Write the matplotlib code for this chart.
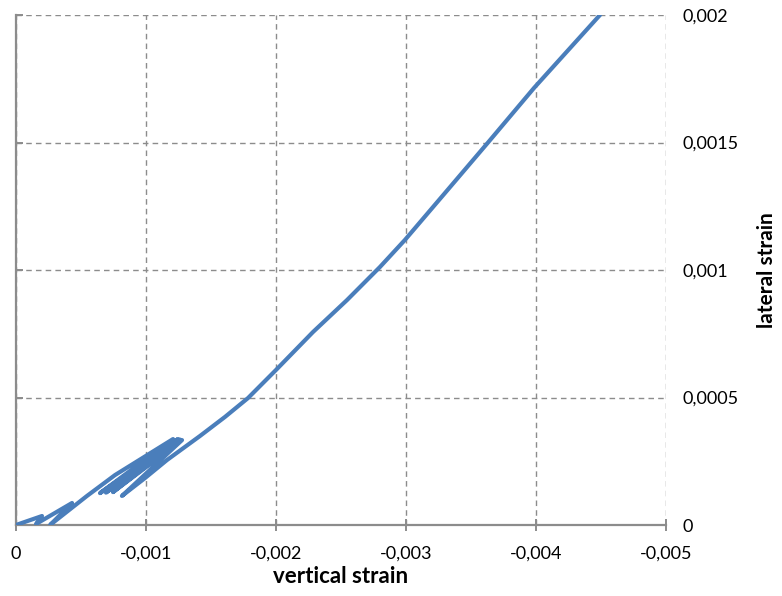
import matplotlib
matplotlib.use("Agg")
import matplotlib.pyplot as plt

# Strain path (vertical strain, lateral strain)
vertical = [0, -0.0002, -0.000154, -0.000431, -0.000262, -0.000546, -0.000762,
            -0.001208, -0.000646, -0.001246, -0.000692, -0.001262, -0.000746,
            -0.001277, -0.000815, -0.000992, -0.001162, -0.001415, -0.001608,
            -0.001785, -0.002, -0.002285, -0.002546, -0.0028, -0.002992,
            -0.0033, -0.003631, -0.003985, -0.004492]
lateral = [0, 0.0000353, 0.0000039, 0.0000863, 0.0, 0.000114, 0.000196,
           0.000337, 0.000125, 0.000337, 0.000127, 0.000335, 0.000129,
           0.000333, 0.000114, 0.000184, 0.000255, 0.000349, 0.000424,
           0.000498, 0.000608, 0.000757, 0.000882, 0.001012, 0.001118,
           0.001302, 0.0015, 0.001714, 0.002]

x_ticks = [0, -0.001, -0.002, -0.003, -0.004, -0.005]
x_labels = ["0", "-0,001", "-0,002", "-0,003", "-0,004", "-0,005"]
y_ticks = [0, 0.0005, 0.001, 0.0015, 0.002]
y_labels = ["0", "0,0005", "0,001", "0,0015", "0,002"]

plt.rcParams["font.family"] = ["Lato", "DejaVu Sans"]

fig = plt.figure(figsize=(7.82, 5.96), dpi=100)
ax = fig.add_axes([16 / 782, 71 / 596, 650 / 782, 510 / 596])

ax.plot(vertical, lateral, color="#4A7EBB", linewidth=3.0,
        solid_joinstyle="round", solid_capstyle="round", zorder=3)

ax.set_xlim(0, -0.005)
ax.set_ylim(0, 0.002)
ax.set_xticks(x_ticks)
ax.set_xticklabels(x_labels)
ax.set_yticks(y_ticks)
ax.set_yticklabels(y_labels)

grid_col = "#8C8C8C"
ax.grid(True, color=grid_col, linestyle=(0, (4, 3)), linewidth=1.0)
ax.set_axisbelow(True)

for side in ["top", "right"]:
    ax.spines[side].set_visible(False)
for side in ["left", "bottom"]:
    ax.spines[side].set_color(grid_col)
    ax.spines[side].set_linewidth(1.6)

ax.tick_params(axis="x", direction="inout", length=8, width=1.4,
               color=grid_col, labelsize=13, pad=11, labelcolor="black")
ax.tick_params(axis="y", left=True, right=False, labelleft=False,
               labelright=True, direction="in", length=5, width=1.4,
               color=grid_col, labelsize=13, pad=12, labelcolor="black")

ax.set_xlabel("vertical strain", fontsize=16, fontweight="bold", labelpad=3)
ax.yaxis.set_label_position("right")
ax.set_ylabel("lateral strain", fontsize=15, fontweight="bold", labelpad=13)

fig.savefig("out.png", dpi=100)
